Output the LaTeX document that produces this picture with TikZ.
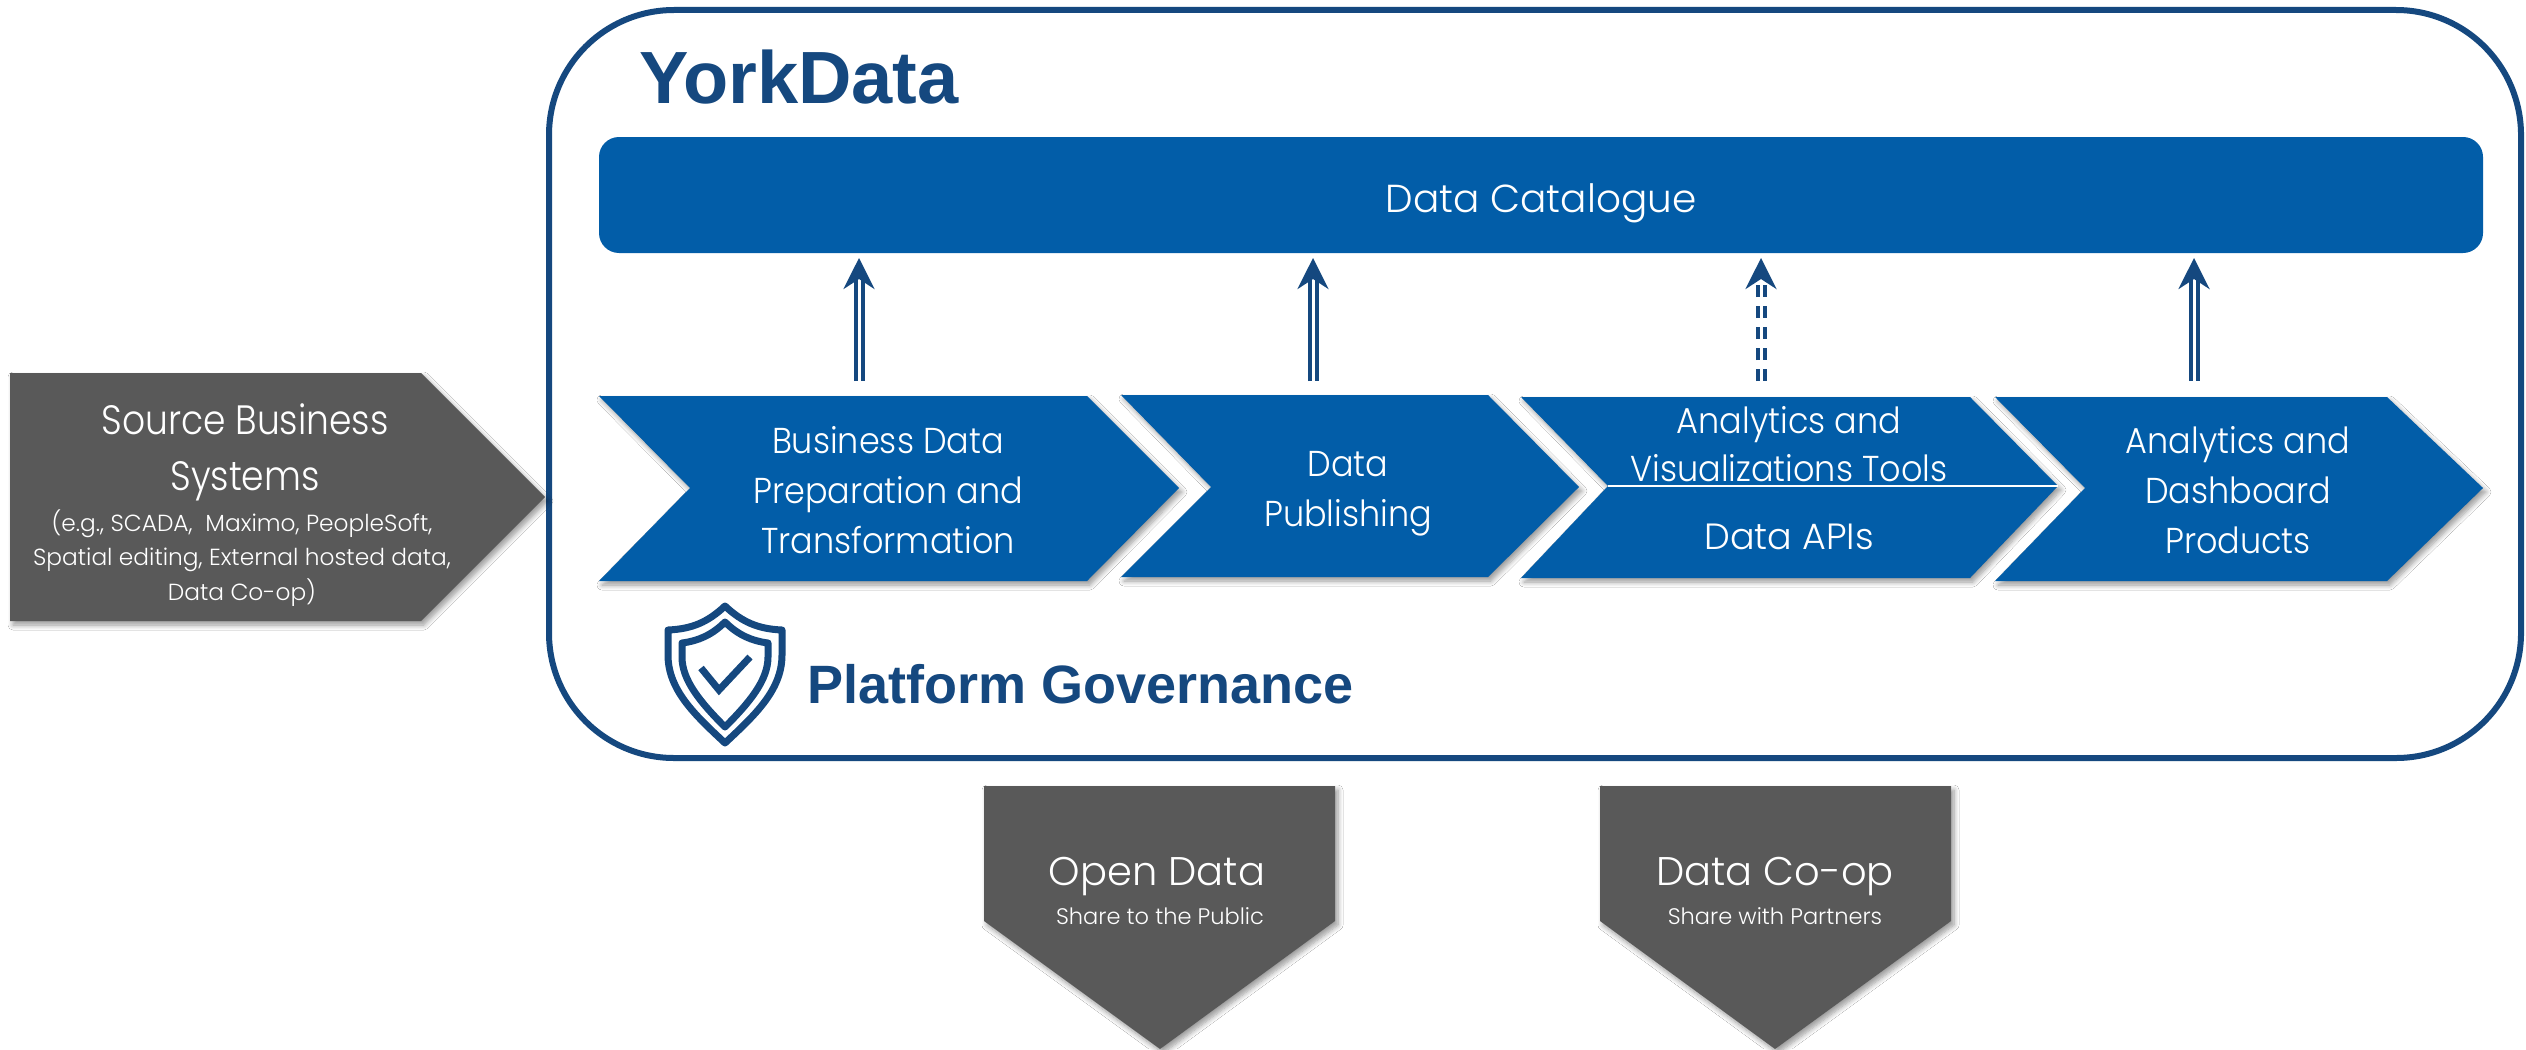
\documentclass[tikz,border=0pt]{standalone}
\usepackage{fontspec}
\setmainfont{Poppins}[UprightFont=* Light]
\newfontfamily\tightfont{Poppins}[UprightFont=* Light,FakeStretch=0.93]
\newfontfamily\tighterfont{Poppins}[UprightFont=* Light,FakeStretch=0.88]
\newfontfamily\headfont{Liberation Sans}[Scale=1]
\usetikzlibrary{arrows.meta,shadows.blur,calc}
\definecolor{navy}{HTML}{15487F}
\definecolor{blockblue}{HTML}{025DA8}
\definecolor{slate}{HTML}{595959}
\tikzset{
  softshadow/.style={blur shadow={shadow xshift=3pt,shadow yshift=-4pt,shadow blur radius=5pt,shadow blur steps=8,shadow opacity=40}},
  chevblue/.style={fill=blockblue,softshadow},
  chevgray/.style={fill=slate,softshadow},
  label/.style={text=white,align=center,inner sep=0pt,font=\tightfont\fontsize{36}{50}\selectfont},
  labelsmall/.style={text=white,align=center,inner sep=0pt,font=\fontsize{23.3}{34.5}\selectfont},
  labelbig/.style={text=white,align=center,inner sep=0pt,font=\tighterfont\fontsize{41}{56}\selectfont},
  heading/.style={text=navy,inner sep=0pt,font=\headfont\bfseries\fontsize{#1}{#1}\selectfont},
  heading/.default=54,
  flow/.style={draw=navy,line width=4pt,double=white,double distance=3pt,
    shorten >=5pt,shorten <=15pt,
    -{Stealth[length=31pt,width=31pt,inset=10pt,fill=navy]}},
  flowdash/.style={flow,dash pattern=on 12pt off 9pt},
  shieldline/.style={draw=navy,line width=7pt,line join=round,fill=none},
}
\begin{document}
\begin{tikzpicture}[x=1pt,y=-1pt]
\useasboundingbox (0,0) rectangle (2526,1049);
\fill[white] (0,0) rectangle (2526,1049);

% outer frame
\node[draw=navy,line width=6pt,rounded corners=125pt,minimum width=1972pt,minimum height=748pt,inner sep=0pt,outer sep=0pt] (frame) at (1535,384) {};

% source
\path[chevgray] (10,373) -- (421,373) -- (545,497) -- (421,621) -- (10,621) -- cycle;
\node[labelbig] (srcA) at (245,452) {Source Business\\Systems};
\node[labelsmall] (srcB) at (242,558) {(e.g., SCADA,\ \ Maximo, PeopleSoft,\\Spatial editing, External hosted data,\\Data Co-op)};

% catalogue
\node[fill=blockblue,rounded corners=20pt,minimum width=1884pt,minimum height=116pt,inner sep=0pt,outer sep=0pt] (cat) at (1541,195) {};
\node[text=white,inner sep=0pt,font=\fontsize{39}{50}\selectfont] (catT) at (1541,203) {Data Catalogue};

% chevrons
\path[chevblue] (599,396) -- (1087,396) -- (1179,488) -- (1087,581) -- (599,581) -- (690,488) -- cycle;
\path[chevblue] (1121,395) -- (1488,395) -- (1579,487) -- (1488,577) -- (1121,577) -- (1211,487) -- cycle;
\path[chevblue] (1521,397) -- (1970,397) -- (2058,486) -- (1970,578) -- (1521,578) -- (1608,486) -- cycle;
\path[chevblue] (1995,397) -- (2387,397) -- (2483,488) -- (2387,581) -- (1995,581) -- (2085,488) -- cycle;

\coordinate (divL) at (1608,486);
\coordinate (divR) at (2058,486);
\draw[white,line width=2pt] (divL) -- (divR);

\node[label] (prep) at (888,490) {Business Data\\Preparation and\\Transformation};
\node[label] (pub) at (1348,494) {Data\\Publishing};
\node[label,font=\tightfont\fontsize{36}{48}\selectfont] (tools) at (1789,444) {Analytics and\\Visualizations Tools};
\node[label,font=\fontsize{36.5}{50}\selectfont] (apis) at (1789,537) {Data APIs};
\node[label] (prod) at (2238,490) {Analytics and\\Dashboard\\Products};

% arrows
\coordinate (a1) at (859,396);
\coordinate (a2) at (1313,396);
\coordinate (a3) at (1761,396);
\coordinate (a4) at (2194,396);
\draw[flow] (a1) -- (a1 |- cat.south);
\draw[flow] (a2) -- (a2 |- cat.south);
\draw[flowdash] (a3) -- (a3 |- cat.south);
\draw[flow] (a4) -- (a4 |- cat.south);

% headings
\node[heading=74,anchor=base west] (york) at (639,103) {YorkData};
\node[heading=54,anchor=base west] (gov) at (807,703) {Platform Governance};

% shield
\draw[shieldline] (725,606) .. controls (708,622) and (692,629) .. (668,630) -- (668,655)
  .. controls (668,690) and (695,715) .. (725,743)
  .. controls (755,715) and (782,690) .. (782,655) -- (782,630)
  .. controls (758,629) and (742,622) .. (725,606) -- cycle;
\draw[shieldline] (725,622) .. controls (712,635) and (698,641) .. (682,643) -- (682,657)
  .. controls (682,680) and (700,702) .. (725,727)
  .. controls (750,702) and (768,680) .. (768,657) -- (768,643)
  .. controls (752,641) and (738,635) .. (725,622) -- cycle;
\draw[shieldline,line join=miter] (701,668) -- (719,690) -- (750,657);

% outputs
\path[chevgray] (984,786) -- (1335,786) -- (1335,921) -- (1160,1049) -- (984,921) -- cycle;
\path[chevgray] (1600,786) -- (1951,786) -- (1951,921) -- (1775,1049) -- (1600,921) -- cycle;
\node[labelbig,font=\fontsize{40}{50}\selectfont] (open) at (1157,877) {Open Data};
\node[labelsmall,font=\fontsize{22.5}{30}\selectfont] (openS) at (1160,916) {Share to the Public};
\node[labelbig,font=\fontsize{40}{50}\selectfont] (coop) at (1775,877) {Data Co-op};
\node[labelsmall,font=\fontsize{22.5}{30}\selectfont] (coopS) at (1775,916) {Share with Partners};
\end{tikzpicture}
\end{document}
